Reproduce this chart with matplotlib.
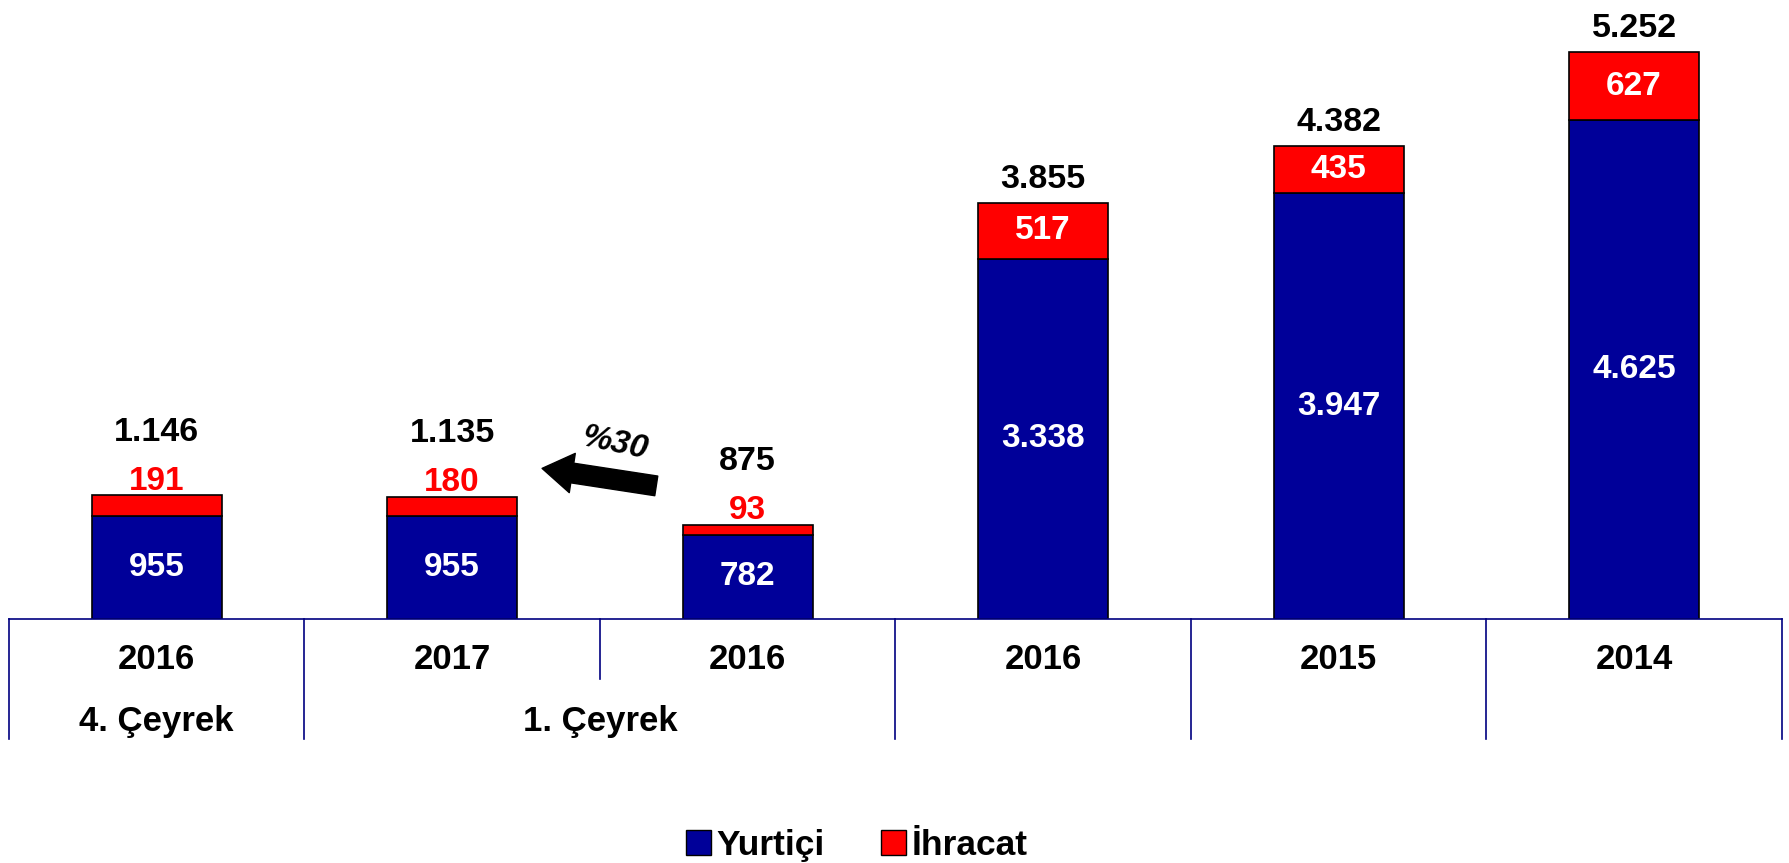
import matplotlib.pyplot as plt
import matplotlib.transforms as mtransforms
from matplotlib.patches import Patch
import numpy as np

years = ["2016", "2017", "2016", "2016", "2015", "2014"]
quarters = ["4. Çeyrek", "1. Çeyrek", "", "", "", ""]
yurtici = [955, 955, 782, 3338, 3947, 4625]
ihracat = [191, 180, 93, 517, 435, 627]
toplam = [1146, 1135, 875, 3855, 4382, 5252]
degisim = "%30"


def tr(v):
    return f"{v:,}".replace(",", ".")


plt.rcParams['font.family'] = ['Liberation Sans', 'DejaVu Sans']
plt.rcParams['font.weight'] = 'bold'

blue = '#000099'
red = '#ff0000'
navy = '#000080'

fig = plt.figure(figsize=(17.89, 8.63), dpi=100)
ax = fig.add_axes([0.005, 0.2827, 0.991, 0.7173])

x = np.arange(len(years))
w = 0.44
ax.bar(x, yurtici, w, color=blue, edgecolor='black', linewidth=1.2)
ax.bar(x, ihracat, w, bottom=yurtici, color=red, edgecolor='black', linewidth=1.2)

ax.set_xlim(-0.5, len(years) - 0.5)
ax.set_ylim(0, 5737)

for s in ['top', 'left', 'right']:
    ax.spines[s].set_visible(False)
ax.spines['bottom'].set_color(navy)
ax.spines['bottom'].set_linewidth(1.2)
ax.set_xticks([])
ax.set_yticks([])

for i in range(len(years)):
    ax.text(x[i], yurtici[i] / 2, tr(yurtici[i]), color='white', fontsize=24,
            ha='center', va='center', fontweight='bold')
    top = yurtici[i] + ihracat[i]
    if ihracat[i] > 300:
        ax.text(x[i], yurtici[i] + ihracat[i] / 2, tr(ihracat[i]), color='white',
                fontsize=24, ha='center', va='center', fontweight='bold')
        ax.annotate(tr(toplam[i]), (x[i], top), xytext=(0, 24), textcoords='offset pixels',
                    ha='center', va='center', fontsize=24.5, fontweight='bold')
    else:
        ax.annotate(tr(ihracat[i]), (x[i], top), xytext=(0, 14), textcoords='offset pixels',
                    ha='center', va='center', fontsize=24, fontweight='bold', color=red)
        ax.annotate(tr(toplam[i]), (x[i], top), xytext=(0, 63), textcoords='offset pixels',
                    ha='center', va='center', fontsize=24.5, fontweight='bold')

# category table under the axis
trans = mtransforms.blended_transform_factory(ax.transData, ax.transAxes)
for b in np.arange(-0.5, len(years), 1.0):
    low = -0.097 if b == 1.5 else -0.194
    ax.plot([b, b], [0, low], color=navy, lw=1.2, transform=trans, clip_on=False)
for i in range(len(years)):
    ax.text(x[i], -0.0646, years[i], transform=trans, ha='center', va='center',
            fontsize=25, fontweight='bold')
ax.text(0, -0.166, quarters[0], transform=trans, ha='center', va='center',
        fontsize=25, fontweight='bold')
ax.text(1.5, -0.166, quarters[1], transform=trans, ha='center', va='center',
        fontsize=25, fontweight='bold')

# change arrow between 1st quarters
ax.annotate('', xy=(1.295, 1400), xytext=(1.70, 1230),
            arrowprops=dict(arrowstyle='simple,head_length=1.0,head_width=1.3,tail_width=0.65',
                            color='black', mutation_scale=22))
ax.text(1.55, 1625, degisim, ha='center', va='center', fontsize=24, fontweight='bold',
        style='italic', rotation=-12)

handles = [Patch(facecolor=blue, edgecolor='black', label='Yurtiçi'),
           Patch(facecolor=red, edgecolor='black', label='İhracat')]
fig.legend(handles=handles, loc='center', bbox_to_anchor=(0.479, 0.02), ncol=2,
           frameon=False, fontsize=25.5, handlelength=0.7, handleheight=0.7,
           handletextpad=0.15, columnspacing=1.6)

fig.savefig('out.png', dpi=100)
